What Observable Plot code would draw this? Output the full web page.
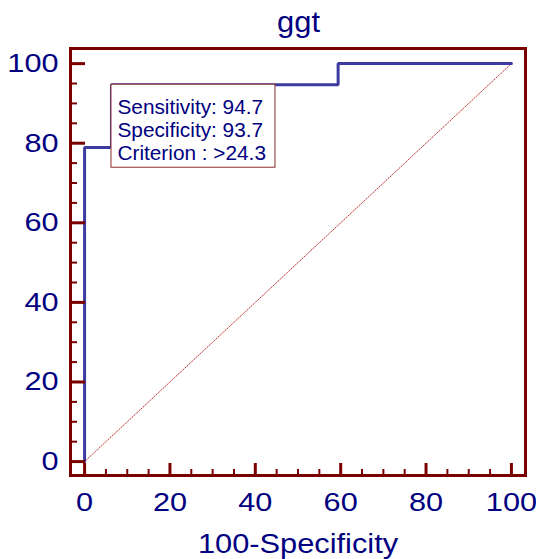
<!DOCTYPE html>
<html>
<head>
<meta charset="utf-8">
<script src="https://cdn.jsdelivr.net/npm/d3@7"></script>
<script src="https://cdn.jsdelivr.net/npm/@observablehq/plot@0.6"></script>
<style>
  html, body { margin: 0; padding: 0; background: #fff; }
  #title { position: relative; width: 536px; height: 40px; font-family: "Liberation Sans", Arial, sans-serif; font-size: 30px; line-height: 30px; color: #000080; }
  #title span { position: absolute; top: 7px; left: 0; width: 597px; text-align: center; transform: scaleX(1.03); transform-origin: 298.5px 50%; }
  svg { display: block; }
</style>
</head>
<body>
<div id="title"><span>ggt</span></div>
<div id="chart"></div>
<script>
// ROC curve points (100-Specificity, Sensitivity)
const fpr = [0, 0, 6.3, 6.3, 59.4, 59.4, 100];
const tpr = [0, 78.9, 78.9, 94.7, 94.7, 100, 100];
// reference diagonal
const diagX = [0, 100];
const diagY = [0, 100];
// tick values
const majorTicks = [0, 20, 40, 60, 80, 100];
const minorTicks = [5, 10, 15, 25, 30, 35, 45, 50, 55, 65, 70, 75, 85, 90, 95];
// criterion annotation
const critX = [100 - 93.7];
const critY = [94.7];
const critText = ["Sensitivity: 94.7\nSpecificity: 93.7\nCriterion : >24.3"];
const xLabel = ["100-Specificity"];

const curve = fpr.map((x, i) => ({x, y: tpr[i]}));
const diag = diagX.map((x, i) => ({x, y: diagY[i]}));
const crit = critX.map((x, i) => ({x, y: critY[i], t: critText[i]}));

const W = 536, H = 519;
const mT = 8, mB = 84, mL = 70, mR = 11;
const fw = W - mL - mR, fh = H - mT - mB;
const maroon = "#7a0000";
const navy = "#000080";
const font = "Liberation Sans, Arial, sans-serif";

const chart = Plot.plot({
  width: W, height: H,
  marginTop: mT, marginBottom: mB, marginLeft: mL, marginRight: mR,
  style: {fontFamily: font, background: "#fff"},
  x: {domain: [-3.3, 103.3]},
  y: {domain: [-3.5, 103.8]},
  marks: [
    Plot.line(diag, {x: "x", y: "y", stroke: "#c03030", strokeWidth: 1, strokeDasharray: "1,1.5"}),
    Plot.line(curve, {x: "x", y: "y", stroke: "#3c3ca0", strokeWidth: 3, strokeLinejoin: "miter"}),
    Plot.rect(crit, {x1: "x", x2: "x", y1: "y", y2: "y", insetRight: -164, insetBottom: -83, fill: "#fff", stroke: "#8b2a2a", strokeWidth: 1}),
    Plot.text(crit, {x: "x", y: "y", text: "t", textAnchor: "start", lineAnchor: "top", dx: 6, dy: 12.8, fontSize: 20, lineHeight: 1.15, fill: navy}),
    Plot.ruleX(majorTicks, {x: d => d, stroke: maroon, strokeWidth: 3, insetTop: fh - 12}),
    Plot.ruleX(minorTicks, {x: d => d, stroke: maroon, strokeWidth: 2, insetTop: fh - 6}),
    Plot.ruleY(majorTicks, {y: d => d, stroke: maroon, strokeWidth: 3, insetRight: fw - 15}),
    Plot.ruleY(minorTicks, {y: d => d, stroke: maroon, strokeWidth: 2, insetRight: fw - 7}),
    Plot.frame({stroke: maroon, strokeWidth: 3}),
    Plot.axisX(majorTicks, {tickSize: 0, tickPadding: 17, fontSize: 26, color: navy, label: null}),
    Plot.axisY(majorTicks, {tickSize: 0, tickPadding: 12, fontSize: 26, color: navy, label: null}),
    Plot.text(xLabel, {frameAnchor: "bottom", dy: 77, fontSize: 28, fill: navy, lineAnchor: "bottom"})
  ]
});
document.getElementById("chart").appendChild(chart);

// the reference's lettering is slightly wider than Liberation Sans
function stretchNodes(nodes, k) {
  nodes.forEach(function (node) {
    const t = node.getAttribute("transform") || "";
    node.setAttribute("transform", t + ` scale(${k},1)`);
  });
}
const svg = d3.select(chart);
stretchNodes(svg.selectAll('g[aria-label="x-axis tick label"] text').nodes(), 1.18);
stretchNodes(svg.selectAll('g[aria-label="y-axis tick label"] text').nodes(), 1.18);
const allText = svg.selectAll("text").nodes();
stretchNodes(allText.filter(n => n.textContent.startsWith("Sensitivity")), 1.04);
stretchNodes(allText.filter(n => n.textContent === xLabel[0]), 1.1);
</script>
</body>
</html>
